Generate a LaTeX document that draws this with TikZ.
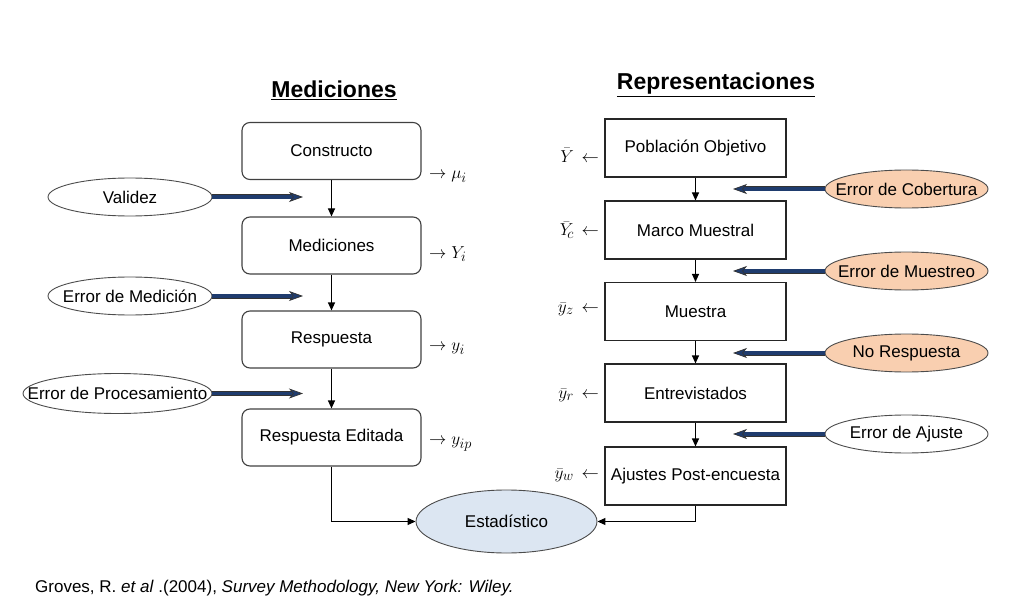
\documentclass[tikz,border=0pt]{standalone}
\usepackage{fontspec}
\setmainfont{Liberation Sans}
\usetikzlibrary{shapes.geometric,arrows.meta}
\definecolor{navyarr}{HTML}{1F3C6E}
\definecolor{peach}{HTML}{F9CFB0}
\definecolor{paleblue}{HTML}{DCE6F2}
\definecolor{boxline}{HTML}{404040}
\begin{document}
\begin{tikzpicture}[x=1pt,y=-1pt,
  every node/.style={font=\fontsize{17}{20}\selectfont},
  rbox/.style={draw=boxline, line width=1.1pt, rounded corners=8pt, minimum width=179pt, minimum height=57pt, inner sep=0pt},
  sbox/.style={draw=black!85, line width=1.1pt, minimum width=181pt, minimum height=58pt, inner sep=0pt},
  lell/.style={draw=black!70, line width=0.9pt, ellipse, minimum width=164pt, minimum height=38pt, inner sep=0pt},
  oell/.style={lell, fill=peach, minimum width=163pt},
  mathlab/.style={inner sep=0pt, font=\fontsize{19}{22}\selectfont},
  blk/.style={draw=black, line width=1.1pt, -{Triangle[length=8pt,width=7pt]}},
  bluearr/.style={draw=navyarr, line width=3.6pt,
     -{Stealth[length=14pt,width=10pt,inset=4pt,line width=0.7pt,fill=navyarr,color=black!80]},
     preaction={draw=black!80, line width=5pt, arrows=-, shorten >=10pt}},
  ttl/.style={font=\fontsize{23}{26}\selectfont\bfseries},
]
\useasboundingbox (0,0) rectangle (1029,607);

% titles
\node[ttl] (tm) at (334,90) {\underline{Mediciones}};
\node[ttl] (tr) at (716,85) {\underline{Representaciones}};

% left column
\node[rbox] (c1) at (331.5,151) {Constructo};
\node[rbox] (c2) at (331.5,245.5) {Mediciones};
\node[rbox] (c3) at (331.5,339.5) {Respuesta};
\node[rbox] (c4) at (331.5,437.5) {Respuesta Editada};

\draw[blk] (c1) -- (c2);
\draw[blk] (c2) -- (c3);
\draw[blk] (c3) -- (c4);

\node[mathlab, anchor=west] (m1) at (429,177) {$\rightarrow \mu_i$};
\node[mathlab, anchor=west] (m2) at (429,254) {$\rightarrow Y_i$};
\node[mathlab, anchor=west] (m3) at (429,349) {$\rightarrow y_i$};
\node[mathlab, anchor=west] (m4) at (429,444) {$\rightarrow y_{ip}$};

% left ellipses
\node[lell, label=center:{Validez}] (e1) at (130,197) {};
\node[lell, label=center:{Error de Medición}] (e2) at (130,296) {};
\node[lell, minimum width=189pt, minimum height=40pt, label=center:{Error de Procesamiento}] (e3) at (117.5,393.5) {};
\coordinate (t1) at (303,197);
\coordinate (t2) at (303,296);
\coordinate (t3) at (303,393.5);
\draw[bluearr] (e1.east) -- (t1);
\draw[bluearr] (e2.east) -- (t2);
\draw[bluearr] (e3.east) -- (t3);

% right column
\node[sbox] (r1) at (695.5,148) {Población Objetivo};
\node[sbox] (r2) at (695.5,230) {Marco Muestral};
\node[sbox] (r3) at (695.5,311.5) {Muestra};
\node[sbox] (r4) at (695.5,393) {Entrevistados};
\node[sbox] (r5) at (695.5,476) {Ajustes Post-encuesta};

\draw[blk] (r1) -- (r2);
\draw[blk] (r2) -- (r3);
\draw[blk] (r3) -- (r4);
\draw[blk] (r4) -- (r5);

\node[mathlab, anchor=east] (n1) at (599,155) {$\bar{Y}\, \leftarrow$};
\node[mathlab, anchor=east] (n2) at (599,230) {$\bar{Y}_{\!c}\, \leftarrow$};
\node[mathlab, anchor=east] (n3) at (599,309) {$\bar{y}_z\, \leftarrow$};
\node[mathlab, anchor=east] (n4) at (599,395) {$\bar{y}_r\, \leftarrow$};
\node[mathlab, anchor=east] (n5) at (599,475) {$\bar{y}_w\, \leftarrow$};

% right ellipses
\node[oell, label=center:{Error de Cobertura}] (o1) at (906.5,189) {};
\node[oell, label=center:{Error de Muestreo}] (o2) at (906.5,271) {};
\node[oell, label=center:{No Respuesta}] (o3) at (906.5,353) {};
\node[lell, minimum width=163pt, label=center:{Error de Ajuste}] (o4) at (906.5,434) {};
\coordinate (u1) at (733,189);
\coordinate (u2) at (733,271);
\coordinate (u3) at (733,353);
\coordinate (u4) at (733,434);
\draw[bluearr] (o1.west) -- (u1);
\draw[bluearr] (o2.west) -- (u2);
\draw[bluearr] (o3.west) -- (u3);
\draw[bluearr] (o4.west) -- (u4);

% estadistico
\node[lell, fill=paleblue, minimum width=181pt, minimum height=63pt, label=center:{Estadístico}] (est) at (506.5,521.5) {};
\draw[blk] (c4.south) |- (est.west);
\draw[blk] (r5.south) |- (est.east);

% caption
\node[anchor=west, inner sep=0pt, font=\fontsize{17}{20}\selectfont] (cap) at (35,588)
  {Groves, R. \textit{et al} .(2004), \textit{Survey Methodology, New York: Wiley.}};
\end{tikzpicture}
\end{document}
